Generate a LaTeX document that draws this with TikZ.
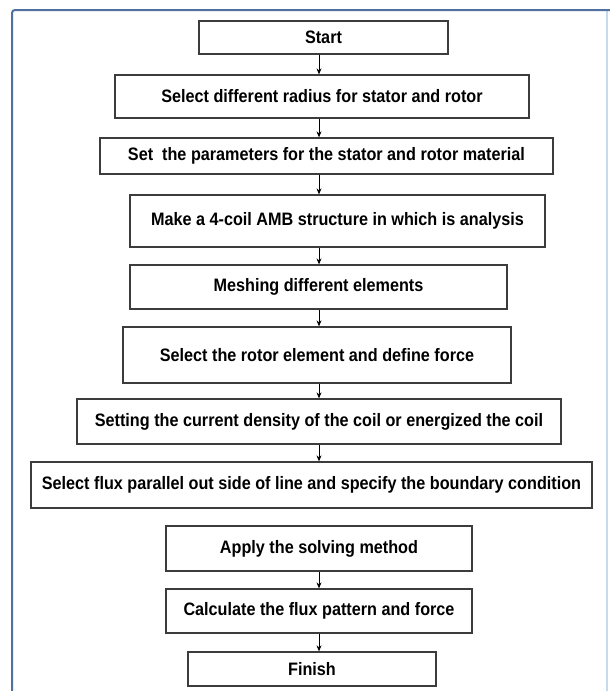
\documentclass[tikz,border=0pt]{standalone}
\usepackage{fontspec}
\newfontfamily\boxfont{Liberation Sans}[FakeStretch=0.9]
\usetikzlibrary{arrows.meta}
\definecolor{framedark}{RGB}{79,113,160}
\definecolor{framelight}{RGB}{197,217,241}
\definecolor{boxline}{RGB}{60,60,60}
\tikzset{
  flowbox/.style={draw=boxline, line width=1.3pt, fill=white, inner sep=0pt,
    align=center, font=\boxfont\bfseries\fontsize{18}{20}\selectfont},
  flowarrow/.style={draw=black, line width=0.8pt, -{Stealth[length=6pt,width=5pt]}}
}
\begin{document}
\begin{tikzpicture}[x=1pt,y=-1pt]
\useasboundingbox (0,0) rectangle (610,691);
% frame
\draw[framelight, line width=1.5pt] (607,10) -- (607,691);
\draw[framedark, line width=2pt, rounded corners=3pt] (12,691) -- (12,10) -- (610,10);
\coordinate (col) at (319,0);
% boxes
\node[flowbox, minimum width=249pt, minimum height=33pt] (s1) at (323.5,37.5) {Start};
\node[flowbox, minimum width=414pt, minimum height=43pt] (s2) at (322,96.5) {Select different radius for stator and rotor};
\node[flowbox, minimum width=453pt, minimum height=36pt] (s3) at (326.5,156) {Set\ \ the parameters for the stator and rotor material};
\node[flowbox, minimum width=415pt, minimum height=52pt] (s4) at (337.5,221) {Make a 4-coil AMB structure in which is analysis};
\node[flowbox, minimum width=377pt, minimum height=44pt] (s5) at (318.5,287) {Meshing different elements};
\node[flowbox, minimum width=388pt, minimum height=56pt] (s6) at (317,355) {Select the rotor element and define force};
\node[flowbox, minimum width=484pt, minimum height=45pt] (s7) at (319,421.5) {Setting the current density of the coil or energized the coil};
\node[flowbox, minimum width=561pt, minimum height=46pt] (s8) at (311.5,485) {Select flux parallel out side of line and specify the boundary condition};
\node[flowbox, minimum width=306pt, minimum height=45pt] (s9) at (319,548.5) {Apply the solving method};
\node[flowbox, minimum width=306pt, minimum height=44pt] (s10) at (319,611) {Calculate the flux pattern and force};
\node[flowbox, minimum width=248pt, minimum height=34pt] (s11) at (312,669) {Finish};
% arrows
\foreach \a/\b in {s1/s2,s2/s3,s3/s4,s4/s5,s5/s6,s6/s7,s7/s8,s9/s10,s10/s11}{
  \draw[flowarrow] (\a.south -| col) -- (\b.north -| col);
}
\end{tikzpicture}
\end{document}
